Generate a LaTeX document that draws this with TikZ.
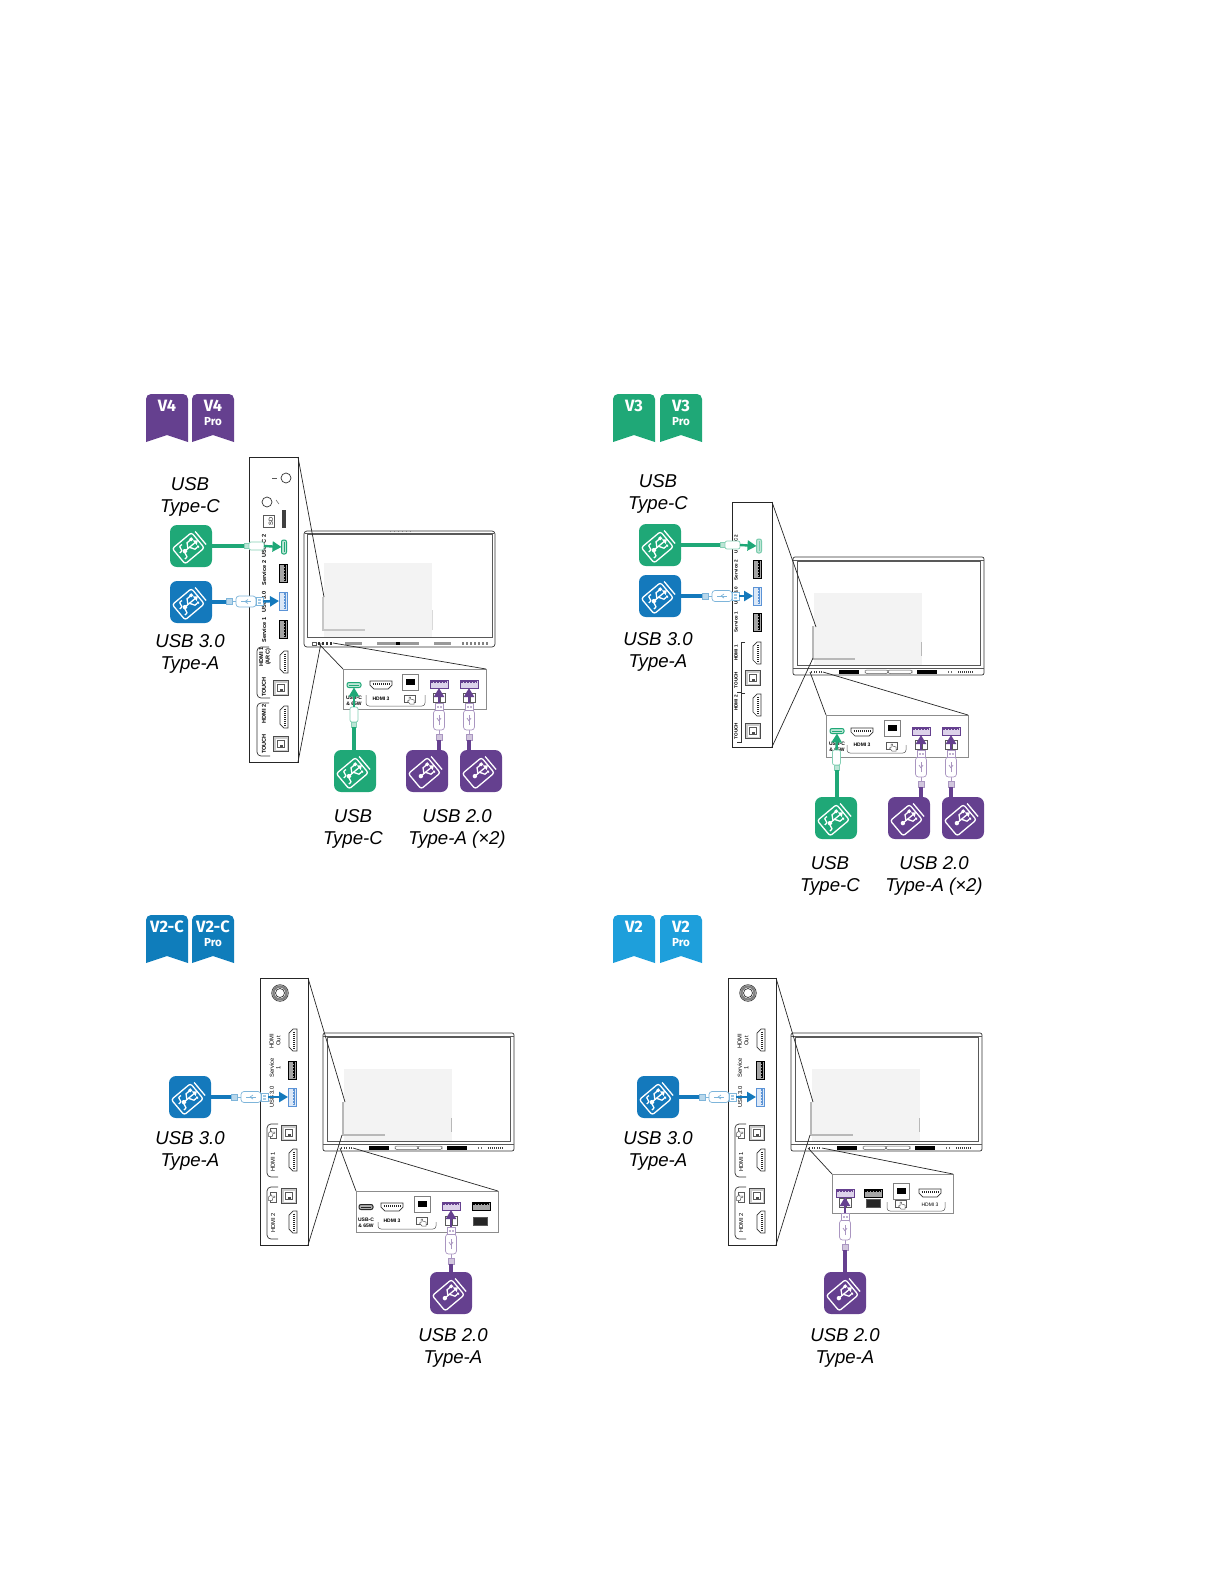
\documentclass[tikz,border=0pt]{standalone}
\usepackage{fontspec}
\setmainfont{Liberation Sans}
\newfontfamily\badgefont{Fira Sans}
\usetikzlibrary{arrows.meta}

\definecolor{tilegreen}{HTML}{1FA877}
\definecolor{tileblue}{HTML}{1479BC}
\definecolor{tilepurple}{HTML}{65408F}
\definecolor{badgeblue}{HTML}{0F7DBB}
\definecolor{badgesky}{HTML}{1E9FDB}
\definecolor{screengrey}{HTML}{F3F3F3}
\definecolor{markgrey}{HTML}{B8B8B8}
\definecolor{portblue}{HTML}{5B93D6}
\definecolor{paleblue}{HTML}{DCE8F7}
\definecolor{palegreen}{HTML}{BFE6D6}
\definecolor{palepurple}{HTML}{DCD2EA}
\def\pxl{.5bp}

\tikzset{
	biglabel/.style={font=\fontsize{9.3bp}{11.4bp}\selectfont\itshape, align=center, inner sep=0pt},
	sidetext/.style={font=\fontsize{2.8bp}{3.2bp}\selectfont\bfseries, rotate=90, align=center, inner sep=0pt},
	sidesmall/.style={sidetext, font=\fontsize{2.3bp}{2.8bp}\selectfont\bfseries},
	sideplain/.style={sidetext, font=\fontsize{2.9bp}{3.3bp}\selectfont},
	boxtext/.style={font=\fontsize{2.5bp}{3bp}\selectfont\bfseries, align=center, inner sep=0pt},
	badgetext/.style={font=\badgefont\fontsize{8.2bp}{9bp}\selectfont\bfseries, text=white, inner sep=0pt},
	protext/.style={font=\badgefont\fontsize{5.8bp}{6bp}\selectfont\bfseries, text=white, inner sep=0pt},
	usbtile/.style={rounded corners=3.5bp, minimum size=21bp, inner sep=0pt, outer sep=0pt},
	jarline/.style={draw=white, line width=.65bp},
	sidebox/.style={draw=black!85, line width=.4bp, inner sep=0pt, outer sep=0pt},
	lowerbox/.style={draw=black!45, line width=.4bp, inner sep=0pt, outer sep=0pt},
	zoomline/.style={draw=black!85, line width=.35bp},
	thinline/.style={draw=black!65, line width=.25bp},
	portline/.style={draw=black!80, line width=.35bp},
	cable/.style={draw=#1, line width=2bp},
	pointer/.style={draw=#1, line width=1.2bp, -{Triangle[length=4.5bp,width=5bp]}},
	plugline/.style={draw=#1!55, line width=.35bp},
}

% big tile with the jar on it
\newcommand{\usbtile}[5]{
	\node[usbtile, fill=#4] (#1) at (#2,#3) {};
	\begin{scope}[shift={(#2,#3)}, rotate=40]
		\draw[jarline, rounded corners=1.2bp] (-16,-10) rectangle (9,10);
		\draw[jarline] (12.5,-8.5) -- (12.5,8.5);
		\draw[jarline] (-8,0) -- (6,0);
		\fill[white] (-8,0) circle (2.2);
		\fill[white] (5,-3) -- (9,0) -- (5,3) -- cycle;
		\draw[jarline] (-4,0) -- (-1,-5) -- (4,-5);
		\fill[white] (3,-6.5) rectangle (6,-3.5);
		\draw[jarline] (-2,0) -- (1,5) -- (4,5);
		\fill[white] (5,5) circle (1.5);
		#5
	\end{scope}
}
\newcommand{\ssmark}{
	\draw[jarline] (-6,-7) .. controls (-13,-8) and (-6,-1) .. (-13,-2);
	\draw[jarline] (-6,1) .. controls (-13,0) and (-6,7) .. (-13,6);
}

\newcommand{\badge}[5]{
	\fill[#4, rounded corners=2.5bp] (#2,{#3+24}) -- (#2,#3) -- ({#2+42},#3) -- ({#2+42},{#3+24}) [sharp corners] -- ({#2+42},{#3+48}) -- ({#2+21},{#3+41}) -- (#2,{#3+48}) -- cycle;
	\node[badgetext] (#1) at ({#2+21},{#3+12}) {#5};
}

\newcommand{\boxnode}[6]{
	\node[#1, minimum width={(#5-#3)*\pxl}, minimum height={(#6-#4)*\pxl}] (#2) at ({(#3+#5)/2},{(#4+#6)/2}) {};
}

% ports
\newcommand{\hdmiport}[3]{
	\begin{scope}[shift={(#1,#2)}, rotate=#3]
		\draw[portline, fill=white] (-11,-4) -- (11,-4) -- (11,0) -- (7,4) -- (-7,4) -- (-11,0) -- cycle;
		\draw[draw=black!85, line width=1bp] (-8.5,-1) -- (8.5,-1);
		\foreach \tk in {-7,-5,...,7} \fill[white] (\tk,-1.6) rectangle ({\tk+.7},-.4);
	\end{scope}
}
\newcommand{\usbaport}[6]{
	\begin{scope}[shift={(#2,#3)}, rotate=#4]
		\draw[draw=#5, fill=#6, line width=.5bp] (-9,-4) rectangle (9,4);
		\fill[#5] (-8,-3) rectangle (8,-.6);
		\foreach \tk in {-6,-3,...,6} \fill[#6] (\tk,-2.4) rectangle ({\tk+1.2},-1.2);
		\coordinate (#1) at (0,4);
	\end{scope}
}
\newcommand{\usbcport}[6]{
	\begin{scope}[shift={(#2,#3)}, rotate=#4]
		\draw[draw=#5, fill=#6, line width=.5bp, rounded corners=1bp] (-7,-2.5) rectangle (7,2.5);
		\draw[draw=#5, line width=.3bp] (-5,0) -- (5,0);
		\coordinate (#1) at (0,2.5);
	\end{scope}
}
\newcommand{\usbbport}[2]{
	\draw[draw=black!50, fill=white, line width=.5bp] ({#1-8},{#2-8}) rectangle ({#1+8},{#2+8});
	\fill[black] ({#1-4.5},{#2-3}) rectangle ({#1+4.5},{#2+3});
}
\newcommand{\touchport}[2]{
	\draw[draw=black!70, fill=black!20, line width=.45bp] ({#1-7.5},{#2-7.5}) rectangle ({#1+7.5},{#2+7.5});
	\fill[white] ({#1-5.5},{#2-5.5}) rectangle ({#1+5.5},{#2+5.5});
	\draw[draw=black!65, line width=.5bp] ({#1-3.5},{#2-3.5}) rectangle ({#1+3.5},{#2+3.5});
	\fill[black!70] ({#1-1.5},{#2+.5}) rectangle ({#1+1.5},{#2+2.5});
}
\newcommand{\touchglyph}[4]{
	\begin{scope}[shift={(#1,#2)}, rotate=#3, scale=#4]
		\draw[thinline, fill=white] (-5.5,-4) rectangle (5.5,3);
		\draw[thinline, fill=white] (-1,-2) -- (.5,-2) -- (.5,0) -- (4,1) -- (4,5) -- (0,5) -- (-2.5,2) -- (-1,1.5) -- cycle;
	\end{scope}
}
\newcommand{\sockethole}[2]{
	\draw[thinline, fill=white] ({#1-6},{#2-4.5}) rectangle ({#1-1},{#2+4.5});
	\draw[thinline, fill=white] ({#1+1},{#2-4.5}) rectangle ({#1+6},{#2+4.5});
}

% plugs, origin at the tip
\newcommand{\plugA}[5]{
	\begin{scope}[shift={(#2,#3)}, rotate=#4]
		\coordinate (#1out) at (0,0);
		\coordinate (#1in) at (-37,0);
		\draw[plugline=#5, fill=#5!30] (-37,-3) rectangle (-31,3);
		\draw[plugline=#5] (-31,0) -- (-27,0);
		\draw[plugline=#5, fill=white, rounded corners=1.5bp] (-27,-5.5) rectangle (-7,5.5);
		\draw[plugline=#5] (-22,0) -- (-12,0);
		\draw[plugline=#5] (-18,0) -- (-15,-2);
		\draw[plugline=#5] (-18,0) -- (-15,2);
		\draw[plugline=#5, fill=white] (-7,-4) rectangle (0,4);
		\fill[#5!40] (-5,-2.5) rectangle (-2.5,-.5);
		\fill[#5!40] (-5,.5) rectangle (-2.5,2.5);
	\end{scope}
}
\newcommand{\plugC}[5]{
	\begin{scope}[shift={(#2,#3)}, rotate=#4]
		\coordinate (#1out) at (0,0);
		\coordinate (#1in) at (-20,0);
		\draw[plugline=#5, fill=#5!30] (-20,-2.5) rectangle (-15,2.5);
		\draw[plugline=#5, fill=white, rounded corners=1bp] (-15,-4) rectangle (0,4);
	\end{scope}
}

\newcommand{\displayunit}[2]{
	\begin{scope}[shift={(#1,#2)}]
		\fill[screengrey] (21,36) rectangle (129,108);
		\draw[portline, rounded corners=1bp] (0,0) rectangle (191,118);
		\draw[thinline] (4,4) rectangle (187,108);
		\draw[thinline] (0,3) -- (191,3);
		\draw[thinline] (0,111) -- (191,111);
		\draw[markgrey, line width=.6bp] (20,69) -- (20,102) -- (62,102);
		\draw[markgrey, line width=.5bp] (128,85) -- (128,99);
		\fill[black] (46,113) rectangle (66,116.5);
		\fill[black] (124,113) rectangle (144,116.5);
		\draw[thinline, rounded corners=1bp] (72,113) rectangle (95,116.5);
		\draw[thinline, rounded corners=1bp] (95,113) rectangle (119,116.5);
		\foreach \dd in {18,20.5,...,30} \fill[black!75] (\dd,113.5) rectangle ({\dd+1.2},115.5);
		\foreach \dd in {155,158} \fill[black!60] (\dd,113.5) rectangle ({\dd+1},115.5);
		\foreach \dd in {165,167,...,179} \fill[black!75] (\dd,113.5) rectangle ({\dd+1.2},115.5);
	\end{scope}
}

% left hand panel of the two older models
\newcommand{\sidepanel}[2]{
	\begin{scope}[shift={(#2,0)}]
		\draw[black!50, line width=1.1bp] (280,993) circle (6.5);
		\draw[black!80, line width=.35bp] (280,993) circle (8.3);
		\draw[black!80, line width=.35bp] (280,993) circle (4.5);
		\node[sideplain] (hdmiout#1) at (275,1041) {HDMI\\Out};
		\hdmiport{293}{1040}{-90}
		\node[sideplain] (serviceone#1) at (275,1068) {Service\\1};
		\usbaport{svcport#1}{292}{1070}{-90}{black}{black!35}
		\node[sideplain] (usbthree#1) at (272,1097) {USB 3.0};
		\draw[black!80, line width=.35bp, rounded corners=2bp] (278,1124) -- (267,1124) -- (267,1177) -- (278,1177);
		\draw[black!80, line width=.35bp, rounded corners=2bp] (278,1187) -- (267,1187) -- (267,1239) -- (278,1239);
		\touchglyph{273}{1133}{-90}{.9}
		\touchport{289}{1133}
		\node[sideplain] (hdmione#1) at (273,1162) {HDMI 1};
		\hdmiport{293}{1160}{-90}
		\touchglyph{273}{1197}{-90}{.9}
		\touchport{289}{1196}
		\node[sideplain] (hdmitwo#1) at (273,1223) {HDMI 2};
		\hdmiport{293}{1222}{-90}
	\end{scope}
}

\begin{document}
\begin{tikzpicture}[x=.5bp,y=-.5bp]
	\useasboundingbox (0,0) rectangle (1224,1584);

	% V4
	\badge{vfour}{146}{394}{tilepurple}{V4}
	\badge{vfourpro}{192}{394}{tilepurple}{V4}
	\node[protext] (profour) at (213,422) {Pro};

	\fill[screengrey] (324,563) rectangle (432,637);
	\draw[portline, rounded corners=1.5bp] (304,531) rectangle (495,647);
	\draw[thinline] (307,534) rectangle (492,637);
	\draw[thinline] (305,533) -- (494,533);
	\draw[black!22, line width=.6bp] (323,597) -- (323,630) -- (365,630);
	\draw[black!15, line width=.5bp] (432,610) -- (432,630);
	\foreach \dd in {390,394,...,410} \fill[black!50] (\dd,530.5) rectangle ({\dd+1},531.5);
	\draw[thinline] (312,642) rectangle (316,645);
	\foreach \dd in {318,322,...,332} \fill[black!80] (\dd,642) rectangle ({\dd+2},645);
	\fill[black!40] (345,642) rectangle (362,645);
	\fill[black!40] (377,642) rectangle (419,645);
	\fill[black] (396,642) rectangle (400,645);
	\fill[black!40] (434,642) rectangle (451,645);
	\foreach \dd in {462,466,...,486} \fill[black!50] (\dd,642) rectangle ({\dd+1.6},645);

	\boxnode{sidebox, fill=white}{sideA}{249}{457}{298}{762}
	\coordinate (zoomAt) at (324,597);
	\coordinate (zoomAb) at (321,643);
	\draw[zoomline] (sideA.north east) -- (zoomAt);
	\draw[zoomline] (sideA.south east) -- (zoomAb);
	\draw[portline] (286,478) circle (5);
	\draw[thinline] (272,478) -- (277,478);
	\draw[portline] (267,502) circle (5);
	\draw[thinline] (276,500) -- (279,504);
	\draw[thinline] (263,515) -- (274,515) -- (274,527) -- (263,527) -- cycle;
	\node[sideplain] (sdcard) at (271,521) {SD};
	\fill[black!75] (282,510) rectangle (286,528);
	\node[sidetext] (usbctwoA) at (264,546) {USB-C 2};
	\usbcport{portCA}{284}{547}{-90}{tilegreen}{palegreen}
	\node[sidetext] (svctwoA) at (264,573) {Service 2};
	\usbaport{svcportA}{283}{573}{-90}{black}{black!35}
	\node[sidetext] (usbthreeA) at (264,602) {USB 3.0};
	\usbaport{portBA}{283}{601}{-90}{portblue}{paleblue}
	\node[sidetext] (svconeA) at (264,630) {Service 1};
	\usbaport{svcportAb}{283}{629}{-90}{black}{black!35}
	\draw[black!80, line width=.35bp, rounded corners=2bp] (269,647) -- (257,647) -- (257,698) -- (270,698);
	\draw[black!80, line width=.35bp, rounded corners=2bp] (269,703) -- (257,703) -- (257,756) -- (270,756);
	\node[sidetext] (hdmioneA) at (265,657) {HDMI 1\\(ARC)};
	\hdmiport{284}{662}{-90}
	\node[sidetext] (touchoneA) at (264,687) {TOUCH};
	\touchport{281}{688}
	\node[sidetext] (hdmitwoA) at (264,714) {HDMI 2};
	\hdmiport{284}{717}{-90}
	\node[sidetext] (touchtwoA) at (264,744) {TOUCH};
	\touchport{281}{744}

	\boxnode{lowerbox, fill=white}{lowerA}{343}{669}{486}{709}
	\coordinate (zoomAl) at (318,643);
	\coordinate (zoomAr) at (333,643);
	\draw[zoomline] (zoomAl) -- (lowerA.north west);
	\draw[zoomline] (zoomAr) -- (lowerA.north east);
	\usbcport{portCAb}{354}{685}{0}{tilegreen}{palegreen}
	\node[boxtext] (usbcAb) at (354,701) {USB-C\\\& 65W};
	\hdmiport{381}{685}{0}
	\node[boxtext] (hdmiA) at (381,699) {HDMI 3};
	\usbbport{410}{682}
	\touchglyph{410}{699}{0}{1}
	\draw[thinline, rounded corners=1.5bp] (366,695) -- (366,706) -- (425,706) -- (425,695);
	\usbaport{portPA}{439}{684}{0}{tilepurple}{palepurple}
	\usbaport{portPAb}{469}{684}{0}{tilepurple}{palepurple}
	\sockethole{439}{698}
	\sockethole{469}{698}

	\usbtile{tileGA}{191}{546}{tilegreen}{\ssmark}
	\usbtile{tileBA}{191}{602}{tileblue}{\ssmark}
	\usbtile{tileGAb}{355}{771}{tilegreen}{\ssmark}
	\usbtile{tilePA}{427}{771}{tilepurple}{}
	\usbtile{tilePAb}{481}{771}{tilepurple}{}

	\plugC{plugGA}{264}{546}{0}{tilegreen}
	\plugA{plugBA}{263}{601.5}{0}{tileblue}
	\plugC{plugGAb}{354}{707}{90}{tilegreen}
	\plugA{plugPA}{439}{703}{90}{tilepurple}
	\plugA{plugPAb}{469}{703}{90}{tilepurple}
	\draw[cable=tilegreen] (tileGA) -- (plugGAin);
	\draw[cable=tileblue] (tileBA.east |- plugBAin) -- (plugBAin);
	\draw[cable=tilegreen] (plugGAbin) -- (plugGAbin |- tileGAb.north);
	\draw[cable=tilepurple] (plugPAin) -- (plugPAin |- tilePA.north);
	\draw[cable=tilepurple] (plugPAbin) -- (plugPAbin |- tilePAb.north);
	\draw[pointer=tilegreen] (plugGAout) -- (portCA);
	\draw[pointer=tileblue] (plugBAout) -- (portBA);
	\draw[pointer=tilegreen] (plugGAbout) -- (portCAb);
	\draw[pointer=tilepurple] (plugPAout) -- (portPA);
	\draw[pointer=tilepurple] (plugPAbout) -- (portPAb);

	\node[biglabel] (lblGA) at (190,497) {USB\\Type-C};
	\node[biglabel] (lblBA) at (190,654) {USB 3.0\\Type-A};
	\node[biglabel] (lblGAb) at (353,829) {USB\\Type-C};
	\node[biglabel] (lblPA) at (457,829) {USB 2.0\\Type-A (×2)};

	% V3
	\badge{vthree}{613}{394}{tilegreen}{V3}
	\badge{vthreepro}{660}{394}{tilegreen}{V3}
	\node[protext] (prothree) at (681,422) {Pro};

	\displayunit{793}{557}
	\boxnode{sidebox, fill=white}{sideB}{732}{502}{772}{747}
	\coordinate (zoomBt) at (816,627);
	\coordinate (zoomBb) at (813,658);
	\draw[zoomline] (sideB.north east) -- (zoomBt);
	\draw[zoomline] (sideB.south east) -- (zoomBb);
	\node[sidesmall] (usbctwoB) at (736,544) {USB-C 2};
	\usbcport{portCB}{759}{546}{-90}{tilegreen!60}{palegreen}
	\node[sidesmall] (svctwoB) at (736,570) {Service 2};
	\usbaport{svcportB}{757}{569}{-90}{black}{black!35}
	\node[sidesmall] (usbthreeB) at (736,596) {USB 3.0};
	\usbaport{portBB}{757}{596}{-90}{portblue}{paleblue}
	\node[sidesmall] (svconeB) at (736,622) {Service 1};
	\usbaport{svcportBb}{757}{622}{-90}{black}{black!35}
	\node[sidesmall] (hdmioneB) at (736,653) {HDMI 1};
	\hdmiport{757}{653}{-90}
	\node[sidesmall] (touchoneB) at (736,680) {TOUCH};
	\touchport{753}{678}
	\node[sidesmall] (hdmitwoB) at (736,703) {HDMI 2};
	\hdmiport{757}{705}{-90}
	\node[sidesmall] (touchtwoB) at (736,731) {TOUCH};
	\touchport{753}{731}
	\draw[black!80, line width=.3bp] (745,642) -- (741.5,642) -- (741.5,692) -- (737,692);
	\draw[black!80, line width=.3bp] (745,693.5) -- (741.5,693.5) -- (741.5,742) -- (737,742);

	\boxnode{lowerbox, fill=white}{lowerB}{826}{715}{968}{757}
	\coordinate (zoomBl) at (810,672);
	\coordinate (zoomBr) at (823,672);
	\draw[zoomline] (zoomBl) -- (lowerB.north west);
	\draw[zoomline] (zoomBr) -- (lowerB.north east);
	\usbcport{portCBb}{837}{731}{0}{tilegreen}{palegreen}
	\node[boxtext] (usbcBb) at (837,747) {USB-C\\\& 65W};
	\hdmiport{862}{732}{0}
	\node[boxtext] (hdmiB) at (862,745) {HDMI 3};
	\usbbport{892}{728}
	\touchglyph{892}{746}{0}{1}
	\draw[thinline, rounded corners=1.5bp] (847,745) -- (847,753) -- (906,753) -- (906,745);
	\usbaport{portPB}{921}{731}{0}{tilepurple}{palepurple}
	\usbaport{portPBb}{951}{731}{0}{tilepurple}{palepurple}
	\sockethole{921}{745}
	\sockethole{951}{745}

	\usbtile{tileGB}{660}{545}{tilegreen}{\ssmark}
	\usbtile{tileBB}{660}{596}{tileblue}{\ssmark}
	\usbtile{tileGBb}{836}{818}{tilegreen}{\ssmark}
	\usbtile{tilePB}{909}{818}{tilepurple}{}
	\usbtile{tilePBb}{963}{818}{tilepurple}{}

	\plugC{plugGB}{740}{545}{0}{tilegreen}
	\plugA{plugBB}{739}{596}{0}{tileblue}
	\plugC{plugGBb}{836.5}{750}{90}{tilegreen}
	\plugA{plugPB}{921}{750}{90}{tilepurple}
	\plugA{plugPBb}{951}{750}{90}{tilepurple}
	\draw[cable=tilegreen] (tileGB) -- (plugGBin);
	\draw[cable=tileblue] (tileBB) -- (plugBBin);
	\draw[cable=tilegreen] (plugGBbin) -- (plugGBbin |- tileGBb.north);
	\draw[cable=tilepurple] (plugPBin) -- (plugPBin |- tilePB.north);
	\draw[cable=tilepurple] (plugPBbin) -- (plugPBbin |- tilePBb.north);
	\draw[pointer=tilegreen] (plugGBout) -- (portCB);
	\draw[pointer=tileblue] (plugBBout) -- (portBB);
	\draw[pointer=tilegreen] (plugGBbout) -- (portCBb);
	\draw[pointer=tilepurple] (plugPBout) -- (portPB);
	\draw[pointer=tilepurple] (plugPBbout) -- (portPBb);

	\node[biglabel] (lblGB) at (658,494) {USB\\Type-C};
	\node[biglabel] (lblBB) at (658,652) {USB 3.0\\Type-A};
	\node[biglabel] (lblGBb) at (830,876) {USB\\Type-C};
	\node[biglabel] (lblPB) at (934,876) {USB 2.0\\Type-A (×2)};

	% V2-C
	\badge{vtwoc}{146}{915}{badgeblue}{V2-C}
	\badge{vtwocpro}{192}{915}{badgeblue}{V2-C}
	\node[protext] (protwoc) at (213,943) {Pro};

	\displayunit{323}{1033}
	\boxnode{sidebox, fill=white}{sideC}{260}{978}{308}{1245}
	\coordinate (zoomCt) at (345,1102);
	\coordinate (zoomCb) at (342,1135);
	\draw[zoomline] (sideC.north east) -- (zoomCt);
	\draw[zoomline] (sideC.south east) -- (zoomCb);
	\sidepanel{C}{0}
	\usbaport{portBC}{292}{1097}{-90}{portblue}{paleblue}

	\boxnode{lowerbox, fill=white}{lowerC}{356}{1191}{498}{1232}
	\coordinate (zoomCl) at (340,1148);
	\coordinate (zoomCr) at (353,1148);
	\draw[zoomline] (zoomCl) -- (lowerC.north west);
	\draw[zoomline] (zoomCr) -- (lowerC.north east);
	\usbcport{portCC}{366}{1207}{0}{black!85}{black!30}
	\node[boxtext] (usbcC) at (366,1223) {USB-C\\\& 65W};
	\hdmiport{392}{1207}{0}
	\node[boxtext] (hdmiC) at (392,1221) {HDMI 3};
	\usbbport{422}{1204}
	\touchglyph{422}{1221}{0}{1}
	\draw[thinline, rounded corners=1.5bp] (378,1222) -- (378,1229) -- (436,1229) -- (436,1222);
	\usbaport{portPC}{451}{1206}{0}{tilepurple}{palepurple}
	\usbaport{svcportC}{481}{1206}{0}{black}{black!35}
	\draw[thinline, fill=black!85] (473,1217) rectangle (487,1225);
	\sockethole{451}{1221}

	\usbtile{tileBC}{190}{1097}{tileblue}{\ssmark}
	\usbtile{tilePC}{451}{1293}{tilepurple}{}
	\plugA{plugBC}{268}{1097}{0}{tileblue}
	\plugA{plugPC}{451}{1227}{90}{tilepurple}
	\draw[cable=tileblue] (tileBC) -- (plugBCin);
	\draw[cable=tilepurple] (plugPCin) -- (tilePC);
	\draw[pointer=tileblue] (plugBCout) -- (portBC);
	\draw[pointer=tilepurple] (plugPCout) -- (portPC);

	\node[biglabel] (lblBC) at (190,1151) {USB 3.0\\Type-A};
	\node[biglabel] (lblPC) at (453,1348) {USB 2.0\\Type-A};

	% V2
	\badge{vtwo}{613}{915}{badgesky}{V2}
	\badge{vtwopro}{660}{915}{badgesky}{V2}
	\node[protext] (protwo) at (681,943) {Pro};

	\displayunit{791}{1033}
	\boxnode{sidebox, fill=white}{sideD}{728}{978}{776}{1245}
	\coordinate (zoomDt) at (813,1102);
	\coordinate (zoomDb) at (810,1135);
	\draw[zoomline] (sideD.north east) -- (zoomDt);
	\draw[zoomline] (sideD.south east) -- (zoomDb);
	\sidepanel{D}{468}
	\usbaport{portBD}{760}{1097}{-90}{portblue}{paleblue}

	\boxnode{lowerbox, fill=white}{lowerD}{832}{1174}{953}{1213}
	\coordinate (zoomDl) at (808,1148);
	\coordinate (zoomDr) at (822,1148);
	\draw[zoomline] (zoomDl) -- (lowerD.north west);
	\draw[zoomline] (zoomDr) -- (lowerD.north east);
	\usbaport{portPD}{845}{1193}{0}{tilepurple}{palepurple}
	\usbaport{svcportD}{873}{1193}{0}{black}{black!35}
	\draw[thinline, fill=black!85] (866,1199) rectangle (880,1207);
	\usbbport{901}{1191}
	\touchglyph{901}{1204}{0}{1}
	\hdmiport{930}{1193}{0}
	\node[boxtext, font=\fontsize{2.5bp}{3bp}\selectfont] (hdmiD) at (930,1205) {HDMI 3};
	\draw[thinline, rounded corners=1.5bp] (887,1202) -- (887,1211) -- (945,1211) -- (945,1202);
	\sockethole{845}{1203}

	\usbtile{tileBD}{658}{1097}{tileblue}{\ssmark}
	\usbtile{tilePD}{845}{1293}{tilepurple}{}
	\plugA{plugBD}{736}{1097}{0}{tileblue}
	\plugA{plugPD}{845}{1213}{90}{tilepurple}
	\draw[cable=tileblue] (tileBD) -- (plugBDin);
	\draw[cable=tilepurple] (plugPDin) -- (tilePD);
	\draw[pointer=tileblue] (plugBDout) -- (portBD);
	\draw[pointer=tilepurple] (plugPDout) -- (portPD);

	\node[biglabel] (lblBD) at (658,1151) {USB 3.0\\Type-A};
	\node[biglabel] (lblPD) at (845,1348) {USB 2.0\\Type-A};
\end{tikzpicture}
\end{document}
